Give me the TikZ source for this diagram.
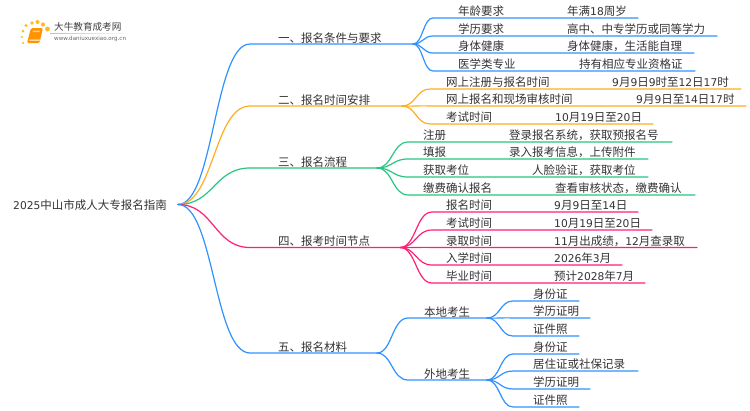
\documentclass[tikz,border=0pt]{standalone}
\usepackage{fontspec}
\setmainfont{Noto Sans CJK SC}
\newfontfamily\numf[Scale=0.93]{DejaVu Sans}
\newfontfamily\urlf{DejaVu Sans}
\usetikzlibrary{calc}
\definecolor{cblue}{HTML}{2F92FF}
\definecolor{corange}{HTML}{FFAE21}
\definecolor{cgreen}{HTML}{27C685}
\definecolor{cpink}{HTML}{FF1F78}
\definecolor{ctext}{HTML}{333333}
\tikzset{
 lbl/.style={anchor=west,inner sep=0pt,text=ctext,font=\fontsize{11.5}{12}\selectfont},
 link/.style={line width=1.2pt,line cap=round},
}
\newcommand{\nm}[1]{{\numf #1}}
\begin{document}
\begin{tikzpicture}[x=1pt,y=-1pt]
\useasboundingbox (0,0) rectangle (750,410);
\fill[white] (0,0) rectangle (750,410);
% logo
\foreach \px/\py/\rr in {23/43/1.1,22/37/1.2,23/31/1.5,26/25.5/1.7,32/23/1.9,37.5/22/2.0,43/24.5/2.1,47.5/29/2.4}
  \fill[corange!85!yellow] (\px,\py) circle (\rr);
\fill[orange!85!yellow,rounded corners=1.5pt] (31,28) -- (43,28) -- (39.5,43) -- (27,43) -- cycle;
\fill[white] (29.6,39.5) -- (40,39.5) -- (39.6,40.7) -- (29.3,40.7) -- cycle;
\fill[orange!40!white] (33,30.5) -- (40,30.5) -- (39.6,32) -- (32.6,32) -- cycle;
\shade[left color=black!25,right color=white,draw=none] (50,33) rectangle (133,33.6);
\node[anchor=west,inner sep=0pt,text=black!75,font=\fontsize{9.6}{10}\selectfont] (logotext) at (54,27) {大牛教育成考网};
\node[anchor=west,inner sep=0pt,text=black!60,font=\urlf\fontsize{5.6}{6}\selectfont] (logourl) at (54,39) {www.daniuxuexiao.org.cn};
% root
\node[lbl] (root) at (13,205.4) {\nm{2025}中山市成人大专报名指南};
\coordinate (rj) at (178,204.5);
% level 1
\foreach \id/\col/\y/\xj/\txt in {
 a/cblue/44/413/一、报名条件与要求,
 b/corange/106/402/二、报名时间安排,
 c/cgreen/168/377/三、报名流程,
 d/cpink/247.5/400/四、报考时间节点,
 e/cblue/353/377/五、报名材料}{
 \coordinate (\id-s) at (250,\y);
 \coordinate (\id-j) at (\xj,\y);
 \node[lbl] (\id-t) at (278,\y-6.2) {\txt};
 \draw[link,\col] (rj) .. controls (214,204.5) and (214,\y) .. (\id-s) -- (\id-j);
}
% leaves: kd = c for a curved link, s for a straight one
\foreach \kd/\id/\col/\jn/\y/\xc/\xe/\xl/\xv/\lt/\vt in {
 c/a1/cblue/a-j/18/433/638/458/567/年龄要求/年满{\nm{18}}周岁,
 c/a2/cblue/a-j/36/433/717/458/567/学历要求/高中、中专学历或同等学力,
 c/a3/cblue/a-j/53/433/694/458/567/身体健康/身体健康，生活能自理,
 c/a4/cblue/a-j/71/433/695/458/579/医学类专业/持有相应专业资格证,
 c/b1/corange/b-j/89/430/741/446/612/网上注册与报名时间/{\nm{9}}月{\nm{9}}日{\nm{9}}时至{\nm{12}}日{\nm{17}}时,
 s/b2/corange/b-j/106/430/746/446/636/网上报名和现场审核时间/{\nm{9}}月{\nm{9}}日至{\nm{14}}日{\nm{17}}时,
 c/b3/corange/b-j/124/430/653/446/555/考试时间/{\nm{10}}月{\nm{19}}日至{\nm{20}}日,
 c/c1/cgreen/c-j/142/408/672/423/509/注册/登录报名系统，获取预报名号,
 c/c2/cgreen/c-j/159/408/648/423/509/填报/录入报考信息，上传附件,
 c/c3/cgreen/c-j/177/408/648/423/532/获取考位/人脸验证，获取考位,
 c/c4/cgreen/c-j/195/408/695/423/555/缴费确认报名/查看审核状态，缴费确认,
 c/d1/cpink/d-j/212/432/638/446/554/报名时间/{\nm{9}}月{\nm{9}}日至{\nm{14}}日,
 c/d2/cpink/d-j/230/432/652/446/554/考试时间/{\nm{10}}月{\nm{19}}日至{\nm{20}}日,
 s/d3/cpink/d-j/247.5/432/697/446/554/录取时间/{\nm{11}}月出成绩，{\nm{12}}月查录取,
 c/d4/cpink/d-j/265/432/622/446/554/入学时间/{\nm{2026}}年{\nm{3}}月,
 c/d5/cpink/d-j/283/432/645/446/554/毕业时间/预计{\nm{2028}}年{\nm{7}}月}{
 \coordinate (\id-s) at (\xc,\y);
 \coordinate (\id-e) at (\xe,\y);
 \node[lbl] (\id-l) at (\xl,\y-6.7) {\lt};
 \node[lbl] (\id-v) at (\xv,\y-6.7) {\vt};
 \if\kd s
  \draw[link,\col] (\jn) .. controls +(10,0.5) and +(-10,-0.5) .. (\id-s) -- (\id-e);
 \else
  \draw[link,\col] (\jn) .. controls ($(\jn)!0.5!(\jn -| \id-s)$) and ($(\id-s)!0.5!(\id-s -| \jn)$) .. (\id-s) -- (\id-e);
 \fi
}
% level 2 of group e
\foreach \id/\y/\xe/\txt in {f/318/487/本地考生,g/380/487/外地考生}{
 \coordinate (\id-s) at (408,\y);
 \coordinate (\id-j) at (\xe,\y);
 \node[lbl] (\id-t) at (424,\y-6.2) {\txt};
 \draw[link,cblue] (e-j) .. controls (392,353) and (392,\y) .. (\id-s) -- (\id-j);
}
\foreach \kd/\id/\jn/\y/\xe/\lt in {
 c/f1/f-j/301/579/身份证,s/f2/f-j/318/590/学历证明,c/f3/f-j/336/579/证件照,
 c/g1/g-j/354/579/身份证,c/g2/g-j/371/638/居住证或社保记录,c/g3/g-j/389/590/学历证明,c/g4/g-j/407/579/证件照}{
 \coordinate (\id-s) at (513,\y);
 \coordinate (\id-e) at (\xe,\y);
 \node[lbl] (\id-l) at (533,\y-6.7) {\lt};
 \if\kd s
  \draw[link,cblue] (\jn) .. controls +(10,0.5) and +(-10,-0.5) .. (\id-s) -- (\id-e);
 \else
  \draw[link,cblue] (\jn) .. controls ($(\jn)!0.5!(\jn -| \id-s)$) and ($(\id-s)!0.5!(\id-s -| \jn)$) .. (\id-s) -- (\id-e);
 \fi
}
\end{tikzpicture}
\end{document}
